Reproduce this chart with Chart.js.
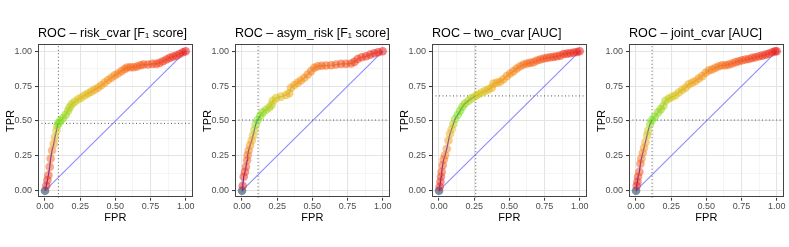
<!DOCTYPE html>
<html>
<head>
<meta charset="utf-8">
<script src="https://cdn.jsdelivr.net/npm/chart.js@4.4.0/dist/chart.umd.min.js"></script>
<style>
  body { margin: 0; background: #fff; }
  #wrap { position: relative; width: 789px; height: 247px; }
  #wrap canvas { position: absolute; top: 0; }
</style>
</head>
<body>
<div id="wrap">
  <canvas id="c1" width="197" height="247" style="left:0px"></canvas>
  <canvas id="c2" width="197" height="247" style="left:197px"></canvas>
  <canvas id="c3" width="197" height="247" style="left:394px"></canvas>
  <canvas id="c4" width="197" height="247" style="left:591px"></canvas>
</div>
<script>
// DATA
const titles = [
  "ROC \u2013 risk_cvar [F\u2081 score]",
  "ROC \u2013 asym_risk [F\u2081 score]",
  "ROC \u2013 two_cvar [AUC]",
  "ROC \u2013 joint_cvar [AUC]"
];
const majorTicks = [0, 0.25, 0.5, 0.75, 1];
const minorTicks = [0.125, 0.375, 0.625, 0.875];

const riskCvarFpr = [0, 0.009, 0.017, 0.024, 0.033, 0.04, 0.05, 0.062, 0.071, 0.081, 0.088, 0.095,
  0.109, 0.128, 0.147, 0.164, 0.175, 0.19, 0.211, 0.235, 0.258, 0.282, 0.306, 0.329, 0.353, 0.377,
  0.4, 0.424, 0.448, 0.472, 0.495, 0.519, 0.543, 0.566, 0.583, 0.607, 0.63, 0.654, 0.678, 0.701,
  0.732, 0.763, 0.791, 0.815, 0.839, 0.863, 0.886, 0.91, 0.934, 0.957, 0.981, 1];
const riskCvarTpr = [0, 0.036, 0.076, 0.111, 0.171, 0.23, 0.289, 0.336, 0.384, 0.431, 0.467, 0.485,
  0.502, 0.521, 0.545, 0.573, 0.597, 0.621, 0.637, 0.656, 0.668, 0.685, 0.697, 0.711, 0.725, 0.739,
  0.756, 0.775, 0.794, 0.81, 0.827, 0.841, 0.858, 0.872, 0.884, 0.886, 0.886, 0.891, 0.9, 0.905,
  0.905, 0.91, 0.91, 0.917, 0.929, 0.941, 0.953, 0.962, 0.969, 0.981, 0.993, 1];

const asymRiskFpr = [0, 0.005, 0.012, 0.021, 0.028, 0.036, 0.04, 0.047, 0.057, 0.069, 0.078, 0.088,
  0.097, 0.111, 0.13, 0.147, 0.171, 0.194, 0.211, 0.218, 0.242, 0.277, 0.313, 0.336, 0.348, 0.372,
  0.396, 0.419, 0.443, 0.467, 0.491, 0.514, 0.538, 0.566, 0.597, 0.633, 0.668, 0.704, 0.739, 0.775,
  0.799, 0.822, 0.851, 0.882, 0.912, 0.941, 0.969, 1];
const asymRiskTpr = [0, 0.036, 0.1, 0.135, 0.171, 0.218, 0.254, 0.289, 0.325, 0.36, 0.396, 0.436,
  0.474, 0.507, 0.538, 0.562, 0.581, 0.597, 0.616, 0.645, 0.664, 0.675, 0.687, 0.699, 0.739, 0.758,
  0.775, 0.791, 0.81, 0.834, 0.858, 0.882, 0.893, 0.896, 0.898, 0.9, 0.905, 0.91, 0.91, 0.912,
  0.924, 0.945, 0.957, 0.964, 0.976, 0.986, 0.993, 1];

const twoCvarFpr = [0, 0.005, 0.01, 0.014, 0.019, 0.026, 0.033, 0.043, 0.055, 0.067, 0.078, 0.09,
  0.102, 0.114, 0.133, 0.15, 0.166, 0.185, 0.209, 0.233, 0.261, 0.28, 0.304, 0.328, 0.352, 0.375,
  0.387, 0.411, 0.435, 0.458, 0.482, 0.506, 0.53, 0.553, 0.577, 0.601, 0.625, 0.648, 0.672, 0.696,
  0.72, 0.743, 0.767, 0.791, 0.815, 0.838, 0.862, 0.886, 0.91, 0.933, 0.957, 0.981, 1];
const twoCvarTpr = [0, 0.028, 0.064, 0.1, 0.135, 0.182, 0.223, 0.254, 0.301, 0.36, 0.408, 0.443,
  0.479, 0.514, 0.545, 0.573, 0.602, 0.626, 0.645, 0.664, 0.68, 0.692, 0.704, 0.716, 0.727, 0.739,
  0.768, 0.775, 0.782, 0.799, 0.822, 0.841, 0.858, 0.877, 0.893, 0.905, 0.912, 0.917, 0.922, 0.934,
  0.941, 0.948, 0.953, 0.957, 0.96, 0.964, 0.969, 0.981, 0.983, 0.986, 0.991, 0.995, 1];

const jointCvarFpr = [0, 0.005, 0.01, 0.014, 0.024, 0.031, 0.038, 0.048, 0.057, 0.067, 0.078, 0.086,
  0.1, 0.114, 0.133, 0.157, 0.176, 0.195, 0.209, 0.233, 0.257, 0.28, 0.304, 0.328, 0.352, 0.375,
  0.399, 0.423, 0.447, 0.47, 0.494, 0.518, 0.542, 0.565, 0.589, 0.613, 0.637, 0.66, 0.684, 0.708,
  0.732, 0.755, 0.779, 0.803, 0.827, 0.85, 0.874, 0.898, 0.922, 0.945, 0.969, 0.988, 1];
const jointCvarTpr = [0, 0.036, 0.064, 0.1, 0.135, 0.194, 0.23, 0.27, 0.308, 0.348, 0.396, 0.431,
  0.479, 0.507, 0.531, 0.562, 0.585, 0.609, 0.645, 0.661, 0.673, 0.685, 0.704, 0.723, 0.739, 0.763,
  0.775, 0.787, 0.806, 0.822, 0.846, 0.863, 0.87, 0.882, 0.893, 0.9, 0.9, 0.905, 0.912, 0.922,
  0.929, 0.936, 0.941, 0.945, 0.953, 0.957, 0.964, 0.969, 0.976, 0.983, 0.993, 1, 1];

// chosen cut-off (dotted lines)
const optFpr = [0.095, 0.114, 0.261, 0.114];
const optTpr = [0.483, 0.507, 0.68, 0.507];
// where the colour scale peaks (green)
const greenAt = [0.095, 0.111, 0.13, 0.114];

const fprList = [riskCvarFpr, asymRiskFpr, twoCvarFpr, jointCvarFpr];
const tprList = [riskCvarTpr, asymRiskTpr, twoCvarTpr, jointCvarTpr];

// STYLE
const FONT = "'Liberation Sans', Arial, sans-serif";
const stops = [
  [0, [232, 30, 28]],
  [0.15, [240, 55, 25]],
  [0.4, [246, 100, 20]],
  [0.6, [246, 150, 20]],
  [0.8, [218, 195, 20]],
  [1, [110, 225, 20]]
];

function scaleColor(t, a) {
  for (let k = 1; k < stops.length; k++) {
    if (t <= stops[k][0]) {
      const [t0, c0] = stops[k - 1];
      const [t1, c1] = stops[k];
      const f = (t - t0) / (t1 - t0);
      const c = c0.map((v, j) => Math.round(v + (c1[j] - v) * f));
      return `rgba(${c[0]},${c[1]},${c[2]},${a})`;
    }
  }
  return `rgba(110,225,20,${a})`;
}

function pointColors(fpr, peakFpr) {
  const p = fpr.findIndex((v) => v >= peakFpr);
  const n = fpr.length;
  return fpr.map((v, i) => {
    if (i === 0) return "rgba(70,95,125,0.7)";
    if (i <= p) return scaleColor(p > 1 ? (i - 1) / (p - 1) : 1, 0.5);
    return scaleColor(1 - (i - p) / (n - 1 - p), 0.55);
  });
}

const isMajor = (v) => majorTicks.some((m) => Math.abs(m - v) < 1e-6);

// box round the panel
const panelBox = {
  id: "panelBox",
  afterDraw(chart) {
    const { ctx, chartArea: a } = chart;
    ctx.save();
    ctx.strokeStyle = "#444";
    ctx.lineWidth = 1;
    ctx.strokeRect(Math.round(a.left) + 0.5, Math.round(a.top) + 0.5,
      Math.round(a.right - a.left) - 1, Math.round(a.bottom - a.top) - 1);
    ctx.restore();
  }
};

function axis(label, isX) {
  return {
    type: "linear",
    min: -0.05,
    max: 1.05,
    afterBuildTicks: (scale) => {
      scale.ticks = majorTicks.concat(minorTicks).sort((a, b) => a - b).map((v) => ({ value: v }));
    },
    afterFit: (scale) => {
      if (isX) scale.height = 49.3;
      else scale.width = 38;
    },
    border: { display: false },
    grid: {
      color: (c) => (c.tick && isMajor(c.tick.value) ? "#e4e4e4" : "#efefef"),
      lineWidth: (c) => (c.tick && isMajor(c.tick.value) ? 1.1 : 0.6),
      tickColor: (c) => (c.tick && isMajor(c.tick.value) ? "#333" : "rgba(0,0,0,0)"),
      tickLength: 3,
      tickWidth: 1
    },
    ticks: {
      autoSkip: false,
      maxRotation: 0,
      padding: isX ? 0 : 3,
      color: "#4d4d4d",
      font: { family: FONT, size: 9 },
      callback: (v) => (isMajor(v) ? Number(v).toFixed(2) : "")
    },
    title: {
      display: true,
      text: label,
      color: "#000",
      font: { family: FONT, size: 11 },
      padding: isX ? { top: 0, bottom: 22.5 } : { top: 4.2, bottom: 0 }
    }
  };
}

function makePanel(id, k) {
  const fpr = fprList[k];
  const tpr = tprList[k];
  const pts = fpr.map((x, i) => ({ x, y: tpr[i] }));
  const peak = fpr.findIndex((v) => v >= optFpr[k]);
  new Chart(document.getElementById(id), {
    type: "scatter",
    data: {
      datasets: [
        {
          data: pts,
          pointRadius: 4.3,
          pointBorderWidth: 0,
          backgroundColor: pointColors(fpr, greenAt[k]),
          showLine: false,
          order: 1
        },
        {
          data: pts,
          showLine: true,
          borderColor: "rgba(20,20,255,0.95)",
          segment: {
            borderColor: (s) => (s.p0DataIndex >= peak ? "rgba(70,60,90,0.35)" : undefined)
          },
          borderWidth: 1.2,
          pointRadius: 0,
          order: 2
        },
        {
          data: [{ x: optFpr[k], y: -0.05 }, { x: optFpr[k], y: 1.05 }],
          showLine: true,
          borderColor: "#555",
          borderWidth: 1,
          borderDash: [1, 2.5],
          pointRadius: 0,
          order: 3
        },
        {
          data: [{ x: -0.05, y: optTpr[k] }, { x: 1.05, y: optTpr[k] }],
          showLine: true,
          borderColor: "#555",
          borderWidth: 1,
          borderDash: [1, 2.5],
          pointRadius: 0,
          order: 3
        },
        {
          data: [{ x: 0, y: 0 }, { x: 1, y: 1 }],
          showLine: true,
          borderColor: "rgba(100,100,255,0.75)",
          borderWidth: 1.1,
          pointRadius: 0,
          order: 4
        }
      ]
    },
    options: {
      responsive: false,
      animation: false,
      events: [],
      layout: { padding: { left: 0, right: 4.3, top: 0, bottom: 0 } },
      plugins: {
        legend: { display: false },
        tooltip: { enabled: false },
        title: {
          display: true,
          text: titles[k],
          align: "start",
          fullSize: false,
          color: "#000",
          font: { family: FONT, size: 12.6, weight: "normal" },
          padding: { top: 25.8, bottom: 3.4 }
        }
      },
      scales: {
        x: axis("FPR", true),
        y: axis("TPR", false)
      }
    },
    plugins: [panelBox]
  });
}

["c1", "c2", "c3", "c4"].forEach((id, k) => makePanel(id, k));
</script>
</body>
</html>
